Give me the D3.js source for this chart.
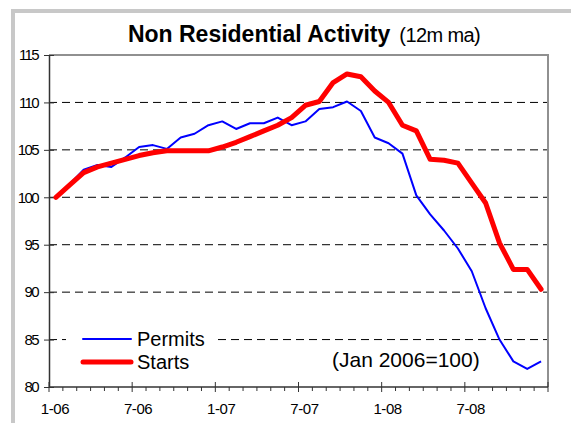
<!DOCTYPE html>
<html>
<head>
<meta charset="utf-8">
<script src="https://cdn.jsdelivr.net/npm/d3@7"></script>
<style>
  body { margin: 0; background: #fff; }
  svg { display: block; font-family: Arial, "Liberation Sans", sans-serif; }
</style>
</head>
<body>
<svg id="svg1" width="571" height="423"></svg>
<script>
// monthly categories, Jan 2006 - Dec 2008
var months = ['1-06','2-06','3-06','4-06','5-06','6-06','7-06','8-06','9-06','10-06','11-06','12-06',
              '1-07','2-07','3-07','4-07','5-07','6-07','7-07','8-07','9-07','10-07','11-07','12-07',
              '1-08','2-08','3-08','4-08','5-08','6-08','7-08','8-08','9-08','10-08','11-08','12-08'];
var tickLabels = ['1-06','7-06','1-07','7-07','1-08','7-08'];
var yTicks = [80, 85, 90, 95, 100, 105, 110, 115];

var permits = [100, 101.4, 102.9, 103.4, 103.2, 104.2, 105.3, 105.5, 105.1, 106.3, 106.7, 107.6,
               108.0, 107.2, 107.8, 107.8, 108.4, 107.6, 108.0, 109.3, 109.5, 110.1, 109.1, 106.3,
               105.7, 104.6, 100.2, 98.2, 96.5, 94.6, 92.2, 88.3, 85.0, 82.7, 81.9, 82.7];
var starts = [100, 101.3, 102.6, 103.2, 103.6, 104.0, 104.4, 104.7, 104.9, 104.9, 104.9, 104.9,
              105.3, 105.8, 106.4, 107.0, 107.6, 108.4, 109.7, 110.1, 112.1, 113.0, 112.7, 111.2,
              110.0, 107.6, 107.0, 104.0, 103.9, 103.6, 101.5, 99.4, 95.2, 92.4, 92.4, 90.3];

var svg = d3.select('#svg1');

var plotLeft = 49, plotRight = 548, plotTop = 55, plotBottom = 387;

var scaleX = d3.scaleBand().domain(months).range([plotLeft, plotRight]);
var scaleY = d3.scaleLinear().domain([80, 115]).range([plotBottom, plotTop]);

// outer frame (only left and top visible)
svg.append('path')
    .attr('d', 'M13,423 V11 H571')
    .attr('fill', 'none')
    .attr('stroke', '#c8c8c8')
    .attr('stroke-width', 4);

// title
var title = svg.append('text')
    .attr('x', 304)
    .attr('y', 42)
    .attr('text-anchor', 'middle')
    .attr('fill', '#000');
title.append('tspan').attr('font-weight', 'bold').attr('font-size', 23).text('Non Residential Activity');
title.append('tspan').attr('font-size', 20).attr('letter-spacing', -0.6).attr('dx', 9).text('(12m ma)');

// gridlines
svg.append('g')
    .selectAll('line')
    .data(yTicks.filter(function(d){ return d > 80 && d < 115; }))
    .enter()
    .append('line')
    .attr('x1', plotLeft)
    .attr('x2', plotRight)
    .attr('y1', function(d){ return scaleY(d); })
    .attr('y2', function(d){ return scaleY(d); })
    .attr('stroke', '#000')
    .attr('stroke-width', 1)
    .attr('stroke-dasharray', '8,5');

// plot border top + right
svg.append('path')
    .attr('d', 'M' + plotLeft + ',' + plotTop + 'H' + plotRight + 'V' + plotBottom)
    .attr('fill', 'none')
    .attr('stroke', '#909090')
    .attr('stroke-width', 2);

// y axis
var yAxis = svg.append('g')
    .attr('transform', 'translate(' + plotLeft + ',0)')
    .call(d3.axisLeft(scaleY).tickValues(yTicks).tickSizeInner(5).tickSizeOuter(0).tickPadding(6));
yAxis.select('.domain').attr('stroke', '#333').attr('stroke-width', 1.5);
yAxis.selectAll('.tick line').attr('x2', 5).attr('x1', -5).attr('stroke', '#333');
yAxis.selectAll('.tick text')
    .attr('font-size', 15)
    .attr('font-family', 'Arial, "Liberation Sans", sans-serif')
    .attr('letter-spacing', -1.6)
    .attr('x', -11)
    .attr('fill', '#000');

// x axis line
svg.append('line')
    .attr('x1', plotLeft).attr('x2', plotRight)
    .attr('y1', plotBottom).attr('y2', plotBottom)
    .attr('stroke', '#333').attr('stroke-width', 1.5);

// x ticks: minor at each month boundary, major every 6 months
var bounds = months.map(function(m){ return scaleX(m); }).concat([plotRight]);
svg.append('g')
    .selectAll('line')
    .data(bounds)
    .enter()
    .append('line')
    .attr('x1', function(d){ return d; })
    .attr('x2', function(d){ return d; })
    .attr('y1', function(d, i){ return i % 6 === 0 ? plotBottom - 5 : plotBottom; })
    .attr('y2', function(d, i){ return i % 6 === 0 ? plotBottom + 5 : plotBottom + 4; })
    .attr('stroke', '#333')
    .attr('stroke-width', 1);

// x labels, centered on category
svg.append('g')
    .selectAll('text')
    .data(tickLabels)
    .enter()
    .append('text')
    .attr('x', function(d){ return scaleX(d) + scaleX.bandwidth() / 2 - 1; })
    .attr('y', 414)
    .attr('text-anchor', 'middle')
    .attr('font-size', 15)
    .attr('letter-spacing', -0.4)
    .attr('fill', '#000')
    .text(function(d){ return d; });

// legend box hides gridline behind it
svg.append('rect')
    .attr('x', 66).attr('y', 324)
    .attr('width', 150).attr('height', 50)
    .attr('fill', '#fff');

var line = d3.line()
    .x(function(d, i){ return scaleX(months[i]) + scaleX.bandwidth() / 2; })
    .y(function(d){ return scaleY(d); });

svg.append('path')
    .datum(permits)
    .attr('d', line)
    .attr('fill', 'none')
    .attr('stroke', '#0000ff')
    .attr('stroke-width', 2)
    .attr('stroke-linejoin', 'round');

svg.append('path')
    .datum(starts)
    .attr('d', line)
    .attr('fill', 'none')
    .attr('stroke', '#ff0000')
    .attr('stroke-width', 5)
    .attr('stroke-linejoin', 'round')
    .attr('stroke-linecap', 'round');

// legend
var legend = [
    {name: 'Permits', color: '#0000ff', w: 2, y: 339},
    {name: 'Starts', color: '#ff0000', w: 5, y: 362}
];
var lg = svg.append('g').selectAll('g').data(legend).enter().append('g');
lg.append('line')
    .attr('x1', 83).attr('x2', 131)
    .attr('y1', function(d){ return d.y; })
    .attr('y2', function(d){ return d.y; })
    .attr('stroke', function(d){ return d.color; })
    .attr('stroke-width', function(d){ return d.w; })
    .attr('stroke-linecap', 'round');
lg.append('text')
    .attr('x', 137)
    .attr('y', function(d){ return d.y + 7; })
    .attr('font-size', 20)
    .attr('fill', '#000')
    .text(function(d){ return d.name; });

// note
svg.append('text')
    .attr('x', 332)
    .attr('y', 367)
    .attr('font-size', 21)
    .attr('fill', '#000')
    .text('(Jan 2006=100)');
</script>
</body>
</html>
